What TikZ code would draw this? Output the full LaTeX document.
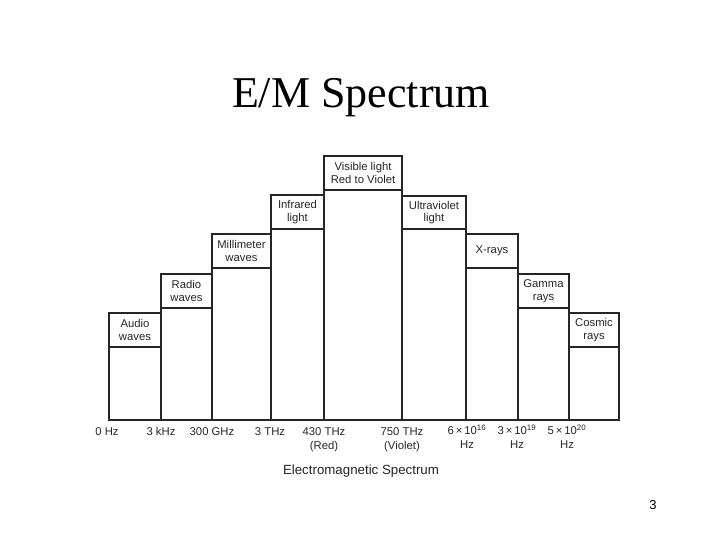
\documentclass[tikz,border=0pt]{standalone}
\usepackage{fontspec}
\setmainfont{Liberation Serif}
\newfontfamily\arialf{Liberation Sans}
\begin{document}
\begin{tikzpicture}[x=1pt,y=-1pt,
  box/.style={draw=black!85,line width=1.1pt},
  lbl/.style={font=\arialf\fontsize{11.3}{12.6}\selectfont,align=center,inner sep=0pt,text=black!85},
  freq/.style={font=\arialf\fontsize{11.3}{14}\selectfont,align=center,inner sep=0pt,anchor=north,text=black!85}]
\useasboundingbox (0,0) rectangle (720,540);
% title
\node[anchor=base,font=\fontsize{44}{50}\selectfont,inner sep=0pt] (title) at (361,108) {E/M Spectrum};
% columns: x1 x2 top labelbottom
\def\base{420}
\foreach \xa/\xb/\yt/\yl in {109/161/313/347, 161/212/274/308, 212/271/234/268, 271/324/195/229, 324/402/156/190, 402/466/196/229, 466/518/234/268, 518/569/274/308, 569/619/313/347}{
  \draw[box] (\xa,\yt) rectangle (\xb,\base);
  \draw[box] (\xa,\yl) -- (\xb,\yl);
}
\node[lbl] (audio) at (135,330) {Audio\\waves};
\node[lbl] (radio) at (186.5,291) {Radio\\waves};
\node[lbl] (mm) at (241.5,251) {Millimeter\\waves};
\node[lbl] (ir) at (297.5,212) {Infrared\\light};
\node[lbl] (vis) at (363,173) {Visible light\\Red to Violet};
\node[lbl] (uv) at (434,212.5) {Ultraviolet\\light};
\node[lbl] (xr) at (492,251) {X-rays};
\node[lbl] (gam) at (543.5,291) {Gamma\\rays};
\node[lbl] (cos) at (594,330) {Cosmic\\rays};
% frequency labels
\node[freq] (f0) at (107,427) {0 Hz};
\node[freq] (f1) at (161,427) {3 kHz};
\node[freq] (f2) at (212,427) {300 GHz};
\node[freq] (f3) at (270,427) {3 THz};
\node[freq] (f4) at (324,427) {430 THz\\(Red)};
\node[freq] (f5) at (402,427) {750 THz\\(Violet)};
\node[freq] (f6) at (467,425) {6\,×\,10\textsuperscript{16}\\Hz};
\node[freq] (f7) at (517,425) {3\,×\,10\textsuperscript{19}\\Hz};
\node[freq] (f8) at (567,425) {5\,×\,10\textsuperscript{20}\\Hz};
\node[font=\arialf\fontsize{13.3}{15}\selectfont,inner sep=0pt,text=black!85] (cap) at (361,471) {Electromagnetic Spectrum};
\node[font=\arialf\fontsize{13}{15}\selectfont,inner sep=0pt] (pg) at (653,505) {3};
\end{tikzpicture}
\end{document}
